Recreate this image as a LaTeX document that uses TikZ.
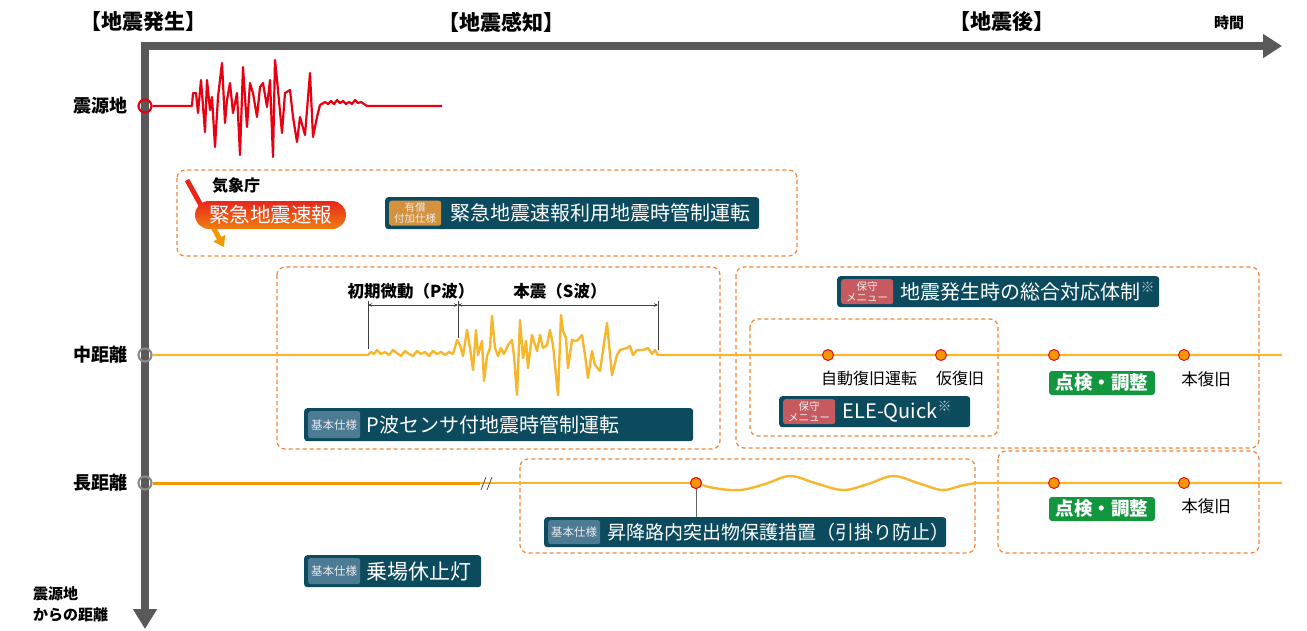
\documentclass[tikz,border=0pt]{standalone}
\usepackage{fontspec}
\setmainfont{Noto Sans CJK JP}
\usetikzlibrary{arrows.meta,calc}
\definecolor{axisgray}{HTML}{5A5858}
\definecolor{seisred}{HTML}{E60012}
\definecolor{waveorange}{HTML}{F8B62D}
\definecolor{darkorange}{HTML}{F39800}
\definecolor{dotorange}{HTML}{F39800}
\definecolor{dashorange}{HTML}{EF8436}
\definecolor{boxblue}{HTML}{0C4A5E}
\definecolor{tagorange}{HTML}{D4923F}
\definecolor{tagblue}{HTML}{4E7B94}
\definecolor{tagred}{HTML}{C75A5F}
\definecolor{okgreen}{HTML}{12973F}
\definecolor{ringgray}{HTML}{8A8A8A}
\definecolor{pillred}{HTML}{E8261C}
\definecolor{pillorange}{HTML}{F07E10}
\begin{document}
\begin{tikzpicture}[x=1pt,y=-1pt,
  axis/.style={draw=axisgray, line width=7.5pt},
  dbox/.style={draw=dashorange, dash pattern=on 4pt off 3pt, line width=1.2pt, rounded corners=8pt},
  bbox/.style={fill=boxblue, rounded corners=3pt, inner sep=0pt, anchor=north west},
  tagbox/.style={rounded corners=2.5pt, inner sep=0pt, minimum width=52pt, minimum height=25pt, text=white!92!black, align=center, font=\fontsize{10.5}{11}\selectfont, anchor=west},
  btext/.style={text=white, anchor=west, inner sep=0pt, font=\fontsize{20}{24}\selectfont},
  gbox/.style={fill=okgreen, rounded corners=3pt, inner sep=0pt, minimum width=106pt, minimum height=24pt, text=white, font=\fontsize{18.5}{20}\selectfont\bfseries},
  dot/.style={circle, fill=dotorange, draw=seisred, line width=0.9pt, minimum size=11pt, inner sep=0pt},
  ring/.style={circle, line width=2.2pt, minimum size=13pt, inner sep=0pt},
  lab/.style={inner sep=0pt, text=black, font=\fontsize{18}{20}\selectfont\bfseries},
  small/.style={inner sep=0pt, text=black, font=\fontsize{16}{18}\selectfont},
  head/.style={inner sep=0pt, text=black, font=\fontsize{21}{24}\selectfont\bfseries},
  seis/.style={draw=seisred, line width=2.2pt, line join=round},
  wave/.style={draw=waveorange, line width=2.4pt, line join=round},
  dimline/.style={draw=black!75, line width=0.8pt}
]
\useasboundingbox (0,0) rectangle (1307,630);

% ---------- dashed grouping boxes ----------
\draw[dbox] (177,170) rectangle (797,256);
\draw[dbox] (277,267) rectangle (720,449);
\draw[dbox] (736,267) rectangle (1259,448);
\draw[dbox] (750,319) rectangle (998,436);
\draw[dbox] (520,459) rectangle (975,553);
\draw[dbox] (998,451) rectangle (1259,553);

% ---------- axes ----------
\coordinate (O) at (145,46);
\coordinate (xend) at (1282,46);
\coordinate (yend) at (145,629);
\draw[axis, -{Triangle[length=19pt,width=23pt]}] ([xshift=-3.75pt]O) -- (xend);
\draw[axis, -{Triangle[length=20pt,width=23pt]}] ([yshift=3.75pt]O) -- (yend);

% ---------- headings ----------
\node[head] (h1) at (143,22) {【地震発生】};
\node[head] (h2) at (501,22) {【地震感知】};
\node[head] (h3) at (1002,22) {【地震後】};
\node[inner sep=0pt, font=\fontsize{15}{17}\selectfont\bfseries] (htime) at (1229,23) {時間};

% ---------- row labels ----------
\node[lab, anchor=east] (lsrc) at (128,106) {震源地};
\node[lab, anchor=east] (lmid) at (128,355) {中距離};
\node[lab, anchor=east] (llong) at (128,483) {長距離};
\node[inner sep=0pt, anchor=west, align=left, font=\fontsize{15}{21}\selectfont\bfseries] (ldist) at (33,604) {震源地\\からの距離};

% ---------- source row ----------
\node[ring, draw=seisred] (src) at (145,106) {};
\draw[seis] (src.east) -- plot coordinates {(192,106) (193,93) (196,93) (198,113) (201,80) (205,132) (207,80) (210,110) (212,97) (215,147) (218,97) (222,63) (225,123) (227,100) (230,83) (233,113) (237,93) (240,155) (243,67) (247,127) (250,83) (253,93) (257,117) (260,87) (263,83) (267,107) (270,80) (273,157) (275,60) (278,90) (282,133) (285,93) (290,90) (293,117) (297,142) (300,117) (305,135) (310,73) (313,137) (317,117) (320,105) (325,102) (328,104) (331,101) (334,104) (337,100) (340,103) (343,101) (346,104) (349,102) (352,104) (355,100) (358,103) (361,102) (364,104) (367,106) (442,106)};

% ---------- JMA warning ----------
\coordinate (ja) at (187,180);
\coordinate (jb) at (224,247);
\draw[draw=pillred, line width=5pt] (ja) -- ($(ja)!0.5!(jb)$);
\draw[draw=darkorange, line width=5pt, -{Triangle[length=10pt,width=13pt]}] ($(ja)!0.45!(jb)$) -- (jb);
\node[small, font=\fontsize{16}{18}\selectfont\bfseries, anchor=west] (jma) at (212,186) {気象庁};
\node[rounded corners=14pt, top color=pillred, bottom color=pillorange, minimum width=151pt, minimum height=28pt, inner sep=0pt, text=white, font=\fontsize{20.5}{22}\selectfont] (eew) at (270.5,215) {緊急地震速報};

\node[bbox, minimum width=374pt, minimum height=32pt] (kbox) at (385,197) {};
\node[tagbox, fill=tagorange] (ktag) at ([xshift=4pt]kbox.west) {有償\\付加仕様};
\node[btext] (ktext) at ([xshift=9pt]ktag.east) {緊急地震速報利用地震時管制運転};

% ---------- middle distance ----------
\node[ring, draw=ringgray] (cmid) at (145,355) {};
\draw[wave] (cmid.east) -- plot coordinates {(368,355) (371,352) (374,354) (377,350) (381,354) (385,352) (389,355) (393,350) (397,353) (401,356) (405,351) (409,354) (413,356) (417,351) (421,354) (425,352) (429,356) (433,351) (437,354) (441,352) (445,355) (449,352) (453,354) (457,340) (460,345) (463,356) (467,330) (470,348) (473,370) (476,330) (478,355) (482,341) (484,381) (487,356) (490,348) (492,316) (495,348) (498,356) (501,348) (504,354) (508,345) (512,340) (514,356) (517,395) (520,320) (523,358) (526,341) (528,368) (532,335) (535,345) (537,351) (540,335) (543,348) (547,345) (550,330) (553,345) (556,375) (558,395) (561,315) (563,331) (566,338) (568,368) (572,340) (575,341) (578,340) (582,335) (585,355) (588,378) (592,351) (595,365) (600,371) (607,323) (612,375) (617,355) (620,350) (627,348) (630,346) (633,355) (637,350) (643,350) (648,348) (652,354) (655,350) (658,355) (1282,355)};

% P / S dimension marks
\draw[dimline] (368,301) -- (368,349);
\draw[dimline] (458,301) -- (458,338);
\draw[dimline] (658,301) -- (658,350);
\coordinate (pa) at (368,305);
\coordinate (pb) at (458,305);
\coordinate (pc) at (658,305);
\draw[dimline, {Stealth[length=4pt,width=3.5pt]}-{Stealth[length=4pt,width=3.5pt]}] (pa) -- (pb);
\draw[dimline, {Stealth[length=4pt,width=3.5pt]}-{Stealth[length=4pt,width=3.5pt]}] (pb) -- (pc);
\node[small, font=\fontsize{16.5}{18}\selectfont\bfseries] (tp) at (411,291) {初期微動（P波）};
\node[small, font=\fontsize{16.5}{18}\selectfont\bfseries] (ts) at (560,291) {本震（S波）};

\node[bbox, minimum width=389pt, minimum height=33pt] (pbox) at (304,408) {};
\node[tagbox, fill=tagblue, minimum height=27pt, font=\fontsize{11.5}{12}\selectfont] (ptag) at ([xshift=4pt]pbox.west) {基本仕様};
\node[btext] (ptext) at ([xshift=6pt]ptag.east) {P波センサ付地震時管制運転};

% after-quake on middle row
\node[dot] (m1) at (828,355) {};
\node[dot] (m2) at (941,355) {};
\node[dot] (m3) at (1054,355) {};
\node[dot] (m4) at (1184,355) {};
\node[small] (t1) at (869,378) {自動復旧運転};
\node[small] (t2) at (960,378) {仮復旧};
\node[gbox] (g1) at (1102,383) {点検・調整};
\node[small, font=\fontsize{16.5}{18}\selectfont] (t3) at (1206,379) {本復旧};

\node[bbox, minimum width=322pt, minimum height=31pt] (sbox) at (837,276) {};
\node[tagbox, fill=tagred] (stag) at ([xshift=4pt]sbox.west) {保守\\メニュー};
\node[btext] (stext) at ([xshift=7pt]stag.east) {地震発生時の総合対応体制\textsuperscript{\textcolor{white!70!boxblue}{※}}};

\node[bbox, minimum width=191pt, minimum height=31pt] (qbox) at (779,396) {};
\node[tagbox, fill=tagred] (qtag) at ([xshift=4pt]qbox.west) {保守\\メニュー};
\node[btext] (qtext) at ([xshift=7pt]qtag.east) {ELE-Quick\textsuperscript{\textcolor{white!70!boxblue}{※}}};

% ---------- long distance ----------
\node[ring, draw=ringgray] (clong) at (145,483) {};
\coordinate (brk) at (480,483);
\draw[draw=darkorange, line width=3pt] (clong.east) -- (brk);
\node[dot] (l1) at (696,483) {};
\draw[wave] (brk) -- (l1);
\draw[draw=black!70, line width=0.8pt] (481,490) -- (486,477) (487,490) -- (492,477);
\draw[wave] (l1) plot[smooth, tension=0.6] coordinates {(696,483) (714,488) (740,490) (765,484) (790,476) (815,483) (843,490) (868,484) (893,476) (918,483) (942,490) (960,486) (975,483)} -- (1282,483);
\node[dot] (l2) at (1054,483) {};
\node[dot] (l3) at (1184,483) {};
\node[gbox] (g2) at (1102,509) {点検・調整};
\node[small, font=\fontsize{16.5}{18}\selectfont] (t4) at (1206,506) {本復旧};

\node[bbox, minimum width=402pt, minimum height=30pt] (hbox) at (544,517) {};
\node[tagbox, fill=tagblue, minimum height=24pt, font=\fontsize{11.5}{12}\selectfont] (htag) at ([xshift=4pt]hbox.west) {基本仕様};
\node[btext, font=\fontsize{19}{22}\selectfont] (htext) at ([xshift=7pt]htag.east) {昇降路内突出物保護措置（引掛り防止）};
\draw[draw=black!60, line width=1pt] (l1.south) -- (l1 |- hbox.north);
\node[dot] at (l1) {};

\node[bbox, minimum width=177pt, minimum height=32pt] (nbox) at (304,555) {};
\node[tagbox, fill=tagblue, minimum height=26pt, font=\fontsize{11.5}{12}\selectfont] (ntag) at ([xshift=4pt]nbox.west) {基本仕様};
\node[btext, font=\fontsize{21}{24}\selectfont] (ntext) at ([xshift=6pt]ntag.east) {乗場休止灯};

\end{tikzpicture}
\end{document}
